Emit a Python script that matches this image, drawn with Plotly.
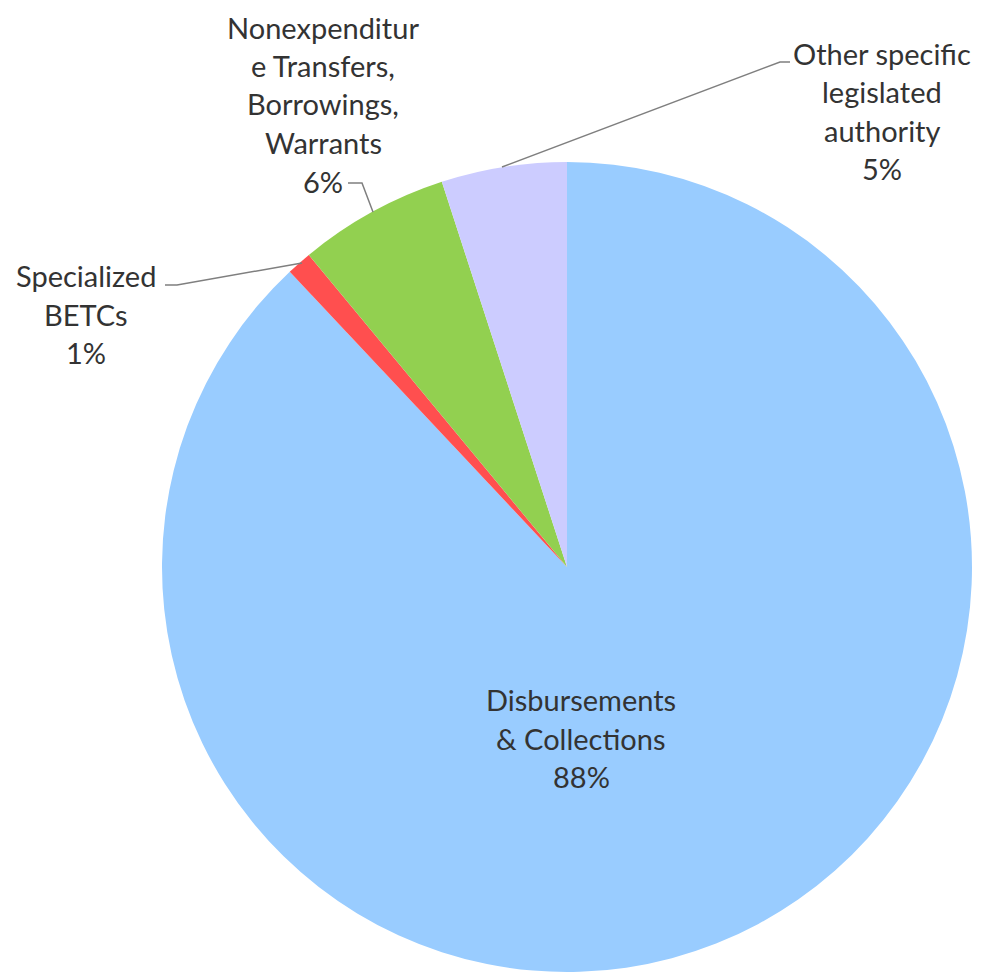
import plotly.graph_objects as go

categories = ["Disbursements & Collections", "Specialized BETCs",
              "Nonexpenditure Transfers, Borrowings, Warrants",
              "Other specific legislated authority"]
values = [88, 1, 6, 5]
colors = ["#99CCFF", "#FF4F4F", "#92D050", "#CCCCFF"]
label_lines = [
    ["Disbursements", "& Collections", "88%"],
    ["Specialized", "BETCs", "1%"],
    ["Nonexpenditur", "e Transfers,", "Borrowings,", "Warrants", "6%"],
    ["Other specific", "legislated", "authority", "5%"],
]

# page body adds an 8px offset; figure sized so it fits the 993x973 window
OFF = 8
W, H = 993 - OFF, 973 - OFF


def px(x, y):
    # screen pixel -> paper coordinates
    return (x - OFF) / W, 1 - (y - OFF) / H


x0, y0 = px(162, 972)
x1, y1 = px(972, 162)
fig = go.Figure(go.Pie(
    labels=categories, values=values, sort=False, direction="clockwise",
    rotation=0, marker=dict(colors=colors, line=dict(width=0)),
    textinfo="none", hoverinfo="label+percent", showlegend=False,
    domain=dict(x=[x0, x1], y=[max(y0, 0), y1]),
))

centers = [(581, 738), (86, 314), (323, 104), (882, 111)]
spacing = 38.5
annotations = []
for lines, (cx, cy) in zip(label_lines, centers):
    n = len(lines)
    for i, t in enumerate(lines):
        y = cy + (i - (n - 1) / 2) * spacing
        xx, yy = px(cx, y)
        annotations.append(dict(
            x=xx, y=yy, xref="paper", yref="paper", text=t, showarrow=False,
            xanchor="center", yanchor="middle",
            font=dict(family="Lato", size=29, color="#333333")))

leaders = [
    [(165, 285), (177, 285), (302, 263)],
    [(348, 183), (362, 183), (373, 212)],
    [(790, 62), (780, 62), (502, 167)],
]
shapes = []
for pts in leaders:
    path = ""
    for j, (x, y) in enumerate(pts):
        xx, yy = px(x, y)
        path += ("M" if j == 0 else "L") + f"{xx},{yy} "
    shapes.append(dict(type="path", path=path.strip(), xref="paper", yref="paper",
                       line=dict(color="#7F7F7F", width=1.5)))

fig.update_layout(width=W, height=H, margin=dict(l=0, r=0, t=0, b=0),
                  paper_bgcolor="white", plot_bgcolor="white",
                  annotations=annotations, shapes=shapes)
fig.write_html("out.html")
